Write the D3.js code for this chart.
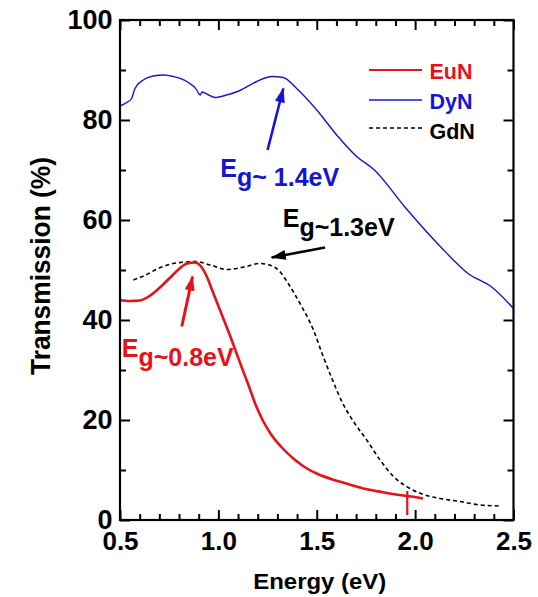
<!DOCTYPE html>
<html><head><meta charset="utf-8">
<script src="https://cdn.jsdelivr.net/npm/d3@7"></script>
<style>body{margin:0;background:#fff}svg{display:block}</style>
</head><body>
<svg id="c" width="538" height="597"></svg>
<script>
// ---- data ----
const seriesNames = ["EuN", "DyN", "GdN"];
const euN = [[0.5,44],[0.55,43.8],[0.6,43.9],[0.65,44.8],[0.7,46.4],[0.75,48.3],[0.8,50.2],[0.84,51.3],[0.88,51.5],[0.91,50.8],[0.94,48.8],[0.97,45.8],[1.0,42.8],[1.03,39.8],[1.06,36.8],[1.09,33.6],[1.12,30.4],[1.15,27.3],[1.19,23],[1.23,19.6],[1.27,17],[1.32,14.6],[1.39,12],[1.45,10.3],[1.5,9.3],[1.58,8.1],[1.65,7.3],[1.75,6.2],[1.83,5.6],[1.92,5],[1.98,4.7],[2.04,4.3]];
const euNMarker = [[1.96,1],[1.96,5.8]];
const dyN = [[0.5,82.8],[0.53,83.4],[0.559,84.3],[0.576,86.3],[0.618,88],[0.669,88.8],[0.72,89],[0.771,88.7],[0.839,87.7],[0.89,86],[0.9,85.3],[0.907,85],[0.917,85.6],[0.95,85],[0.983,84.5],[1.042,85],[1.11,85.9],[1.195,87.7],[1.271,88.7],[1.33,88.5],[1.398,86.3],[1.5,82],[1.608,76.7],[1.7,72.8],[1.793,70],[1.95,62.5],[2.128,54.7],[2.269,49.3],[2.392,46.5],[2.5,42.3]];
const gdN = [[0.568,48],[0.62,48.8],[0.7,50.4],[0.77,51.3],[0.84,51.6],[0.88,51.7],[0.96,51],[1.04,50.1],[1.13,50.6],[1.21,51.3],[1.26,51],[1.31,49.8],[1.355,47.3],[1.415,43.3],[1.483,38],[1.53,33],[1.575,28.5],[1.63,23.5],[1.69,19.5],[1.754,16],[1.822,12],[1.89,8.7],[1.974,6.3],[2.042,5.1],[2.126,4.3],[2.228,3.7],[2.33,3],[2.44,2.8]];
const xTickVals = [0.5,1.0,1.5,2.0,2.5];
const xTickLabels = ["0.5","1.0","1.5","2.0","2.5"];
const xMinorVals = [0.6,0.7,0.8,0.9,1.1,1.2,1.3,1.4,1.6,1.7,1.8,1.9,2.1,2.2,2.3,2.4];
const yTickVals = [0,20,40,60,80,100];
const yTickLabels = ["0","20","40","60","80","100"];
const yMinorVals = [10,30,50,70,90];
const annotations = [
  {main:"E", sub:"g~ 1.4eV", E:1.01, T:68.7, series:"DyN"},
  {main:"E", sub:"g~1.3eV", E:1.327, T:58.7, series:"GdN"},
  {main:"E", sub:"g~0.8eV", E:0.509, T:32.7, series:"EuN"}
];
const arrows = [
  {from:[1.25,74], to:[1.33,86.3], series:"DyN"},
  {from:[1.542,54.5], to:[1.271,52.5], series:"GdN"},
  {from:[0.814,38.7], to:[0.869,48.7], series:"EuN"}
];

// ---- styles ----
const colors = {EuN:"#e5121b", DyN:"#1515d0", GdN:"#000"};
const FONT = "'Liberation Sans', Arial, Helvetica, sans-serif";

const svg = d3.select("#c");
svg.append("rect").attr("width",538).attr("height",597).attr("fill","#fff");
const x = d3.scaleLinear().domain([0.5,2.5]).range([120,513.5]);
const y = d3.scaleLinear().domain([0,100]).range([520,20]);

// axes (ticks inside)
const gx = svg.append("g").attr("transform",`translate(0,${y(0)})`)
  .call(d3.axisBottom(x).tickValues(xTickVals).tickFormat((d,i)=>xTickLabels[i]).tickSize(-10).tickPadding(12));
svg.append("g").attr("transform",`translate(0,${y(0)})`)
  .call(d3.axisBottom(x).tickValues(xMinorVals).tickFormat("").tickSize(-6));
svg.append("g").attr("transform",`translate(0,${y(100)})`)
  .call(d3.axisTop(x).tickValues(xTickVals).tickFormat("").tickSize(-10));
svg.append("g").attr("transform",`translate(0,${y(100)})`)
  .call(d3.axisTop(x).tickValues(xMinorVals).tickFormat("").tickSize(-6));
const gy = svg.append("g").attr("transform",`translate(${x(0.5)},0)`)
  .call(d3.axisLeft(y).tickValues(yTickVals).tickFormat((d,i)=>yTickLabels[i]).tickSize(-10).tickPadding(7.5));
svg.append("g").attr("transform",`translate(${x(0.5)},0)`)
  .call(d3.axisLeft(y).tickValues(yMinorVals).tickFormat("").tickSize(-6));
svg.append("g").attr("transform",`translate(${x(2.5)},0)`)
  .call(d3.axisRight(y).tickValues(yTickVals).tickFormat("").tickSize(-10));
svg.append("g").attr("transform",`translate(${x(2.5)},0)`)
  .call(d3.axisRight(y).tickValues(yMinorVals).tickFormat("").tickSize(-6));
svg.selectAll(".domain").remove();
svg.selectAll(".tick line").attr("stroke","#000").attr("stroke-width",2);
gx.selectAll("text").attr("font-size",26).attr("font-weight","bold").attr("font-family",FONT).attr("fill","#000");
gy.selectAll("text").attr("font-size",27).attr("font-weight","bold").attr("font-family",FONT).attr("fill","#000").attr("dy","0.3em");

// data lines
const line = d3.line().x(d=>x(d[0])).y(d=>y(d[1])).curve(d3.curveMonotoneX);
svg.append("path").datum(gdN).attr("d",line).attr("fill","none").attr("stroke",colors.GdN).attr("stroke-width",1.6).attr("stroke-dasharray","4,3");
svg.append("path").datum(dyN).attr("d",line).attr("fill","none").attr("stroke",colors.DyN).attr("stroke-width",1.4);
svg.append("path").datum(euN).attr("d",line).attr("fill","none").attr("stroke",colors.EuN).attr("stroke-width",2.6);
svg.append("path").datum(euNMarker).attr("d",d3.line().x(d=>x(d[0])).y(d=>y(d[1]))).attr("fill","none").attr("stroke",colors.EuN).attr("stroke-width",2.2);

// frame
svg.append("rect").attr("x",x(0.5)).attr("y",y(100)).attr("width",x(2.5)-x(0.5)).attr("height",y(0)-y(100))
  .attr("fill","none").attr("stroke","#000").attr("stroke-width",2.2);

// arrows
const defs = svg.append("defs");
seriesNames.forEach(s=>{
  defs.append("marker").attr("id","ah-"+s).attr("markerUnits","userSpaceOnUse")
    .attr("viewBox","0 0 15 10").attr("refX",14).attr("refY",5)
    .attr("markerWidth",16).attr("markerHeight",10).attr("orient","auto")
    .append("path").attr("d","M0,0 L15,5 L0,10 Z").attr("fill",colors[s]);
});
arrows.forEach(a=>{
  svg.append("line").attr("x1",x(a.from[0])).attr("y1",y(a.from[1]))
    .attr("x2",x(a.to[0])).attr("y2",y(a.to[1]))
    .attr("stroke",colors[a.series]).attr("stroke-width",a.series==="EuN"?3:2.6)
    .attr("marker-end",`url(#ah-${a.series})`);
});

// annotations
annotations.forEach(a=>{
  const t = svg.append("text").attr("x",x(a.E)).attr("y",y(a.T))
    .attr("font-family",FONT).attr("font-weight","bold").attr("font-size",25).attr("fill",colors[a.series]);
  t.append("tspan").text(a.main);
  t.append("tspan").attr("dy",9).text(a.sub);
});

// legend
const lg = svg.append("g");
const legendLineY = [70,100,128];
const legendTextY = [79.3,108.5,138.5];
seriesNames.forEach((s,i)=>{
  lg.append("line").attr("x1",369).attr("x2",422).attr("y1",legendLineY[i]).attr("y2",legendLineY[i])
    .attr("stroke",colors[s]).attr("stroke-width",s==="EuN"?2:1.6)
    .attr("stroke-dasharray",s==="GdN"?"4,3":null);
  lg.append("text").attr("x",429.5).attr("y",legendTextY[i]).text(s)
    .attr("font-family",FONT).attr("font-weight","bold").attr("font-size",21.5).attr("fill",colors[s]);
});

// axis titles
svg.append("text").attr("x",(x(0.5)+x(2.5))/2+3).attr("y",588.5).attr("text-anchor","middle")
  .attr("font-family",FONT).attr("font-weight","bold").attr("font-size",22)
  .attr("textLength",133).attr("lengthAdjust","spacingAndGlyphs").text("Energy (eV)");
svg.append("text").attr("transform","translate(50,266) rotate(-90)").attr("text-anchor","middle")
  .attr("font-family",FONT).attr("font-weight","bold").attr("font-size",27)
  .attr("textLength",218).attr("lengthAdjust","spacingAndGlyphs").text("Transmission (%)");
</script>
</body></html>
